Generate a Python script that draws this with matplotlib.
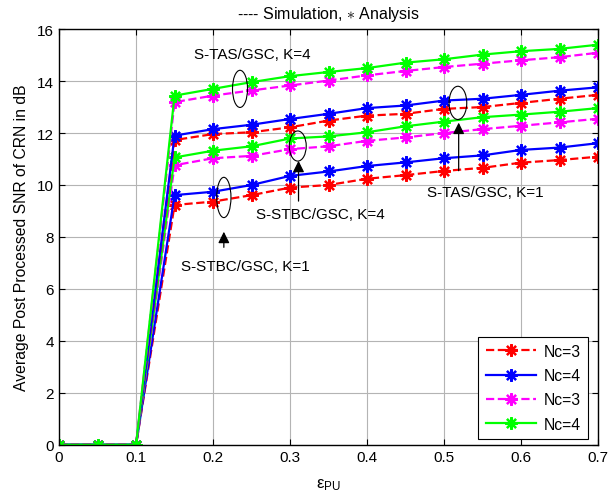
import matplotlib
matplotlib.use("Agg")
import matplotlib.pyplot as plt
from matplotlib.patches import Ellipse

plt.rcParams['font.family'] = ['Liberation Sans', 'DejaVu Sans']
plt.rcParams['mathtext.fontset'] = 'custom'
plt.rcParams['mathtext.rm'] = 'Liberation Sans'
plt.rcParams['mathtext.it'] = 'Liberation Sans'

# PU outage threshold
eps_pu = [0.0, 0.05, 0.1, 0.15, 0.2, 0.25, 0.3, 0.35, 0.4, 0.45, 0.5, 0.55, 0.6, 0.65, 0.7]

# Average post-processed SNR (dB)
stbc_k1_nc3 = [0, 0, 0, 9.23, 9.36, 9.61, 9.90, 10.00, 10.24, 10.38, 10.54, 10.66, 10.86, 10.96, 11.09]
stbc_k1_nc4 = [0, 0, 0, 9.61, 9.74, 10.00, 10.35, 10.52, 10.73, 10.87, 11.03, 11.14, 11.35, 11.44, 11.61]
stbc_k4_nc3 = [0, 0, 0, 10.76, 11.03, 11.12, 11.38, 11.49, 11.70, 11.83, 12.00, 12.15, 12.28, 12.41, 12.55]
stbc_k4_nc4 = [0, 0, 0, 11.06, 11.32, 11.49, 11.79, 11.87, 12.03, 12.26, 12.44, 12.61, 12.71, 12.82, 12.96]
tas_k1_nc3 = [0, 0, 0, 11.73, 11.96, 12.03, 12.22, 12.48, 12.67, 12.74, 12.93, 13.00, 13.16, 13.32, 13.47]
tas_k1_nc4 = [0, 0, 0, 11.90, 12.15, 12.32, 12.54, 12.74, 12.96, 13.06, 13.25, 13.32, 13.47, 13.63, 13.76]
tas_k4_nc3 = [0, 0, 0, 13.19, 13.44, 13.64, 13.83, 14.02, 14.22, 14.39, 14.54, 14.67, 14.80, 14.92, 15.09]
tas_k4_nc4 = [0, 0, 0, 13.44, 13.70, 13.96, 14.19, 14.35, 14.50, 14.71, 14.84, 15.02, 15.15, 15.24, 15.40]

legend_labels = ['Nc=3', 'Nc=4', 'Nc=3', 'Nc=4']

fig = plt.figure(figsize=(6.09, 5.02), dpi=100)
ax = fig.add_axes([0.097, 0.112, 0.885, 0.828])

red, blue, mag, green = '#ff0000', '#0000ff', '#ff00ff', '#00ff00'
star = (8, 2, 0)
common = dict(marker=star, markersize=9, markeredgewidth=1.6, linewidth=1.6)

h1, = ax.plot(eps_pu, stbc_k1_nc3, '--', color=red, **common)
h2, = ax.plot(eps_pu, stbc_k1_nc4, '-', color=blue, **common)
h3, = ax.plot(eps_pu, stbc_k4_nc3, '--', color=mag, **common)
h4, = ax.plot(eps_pu, stbc_k4_nc4, '-', color=green, **common)
ax.plot(eps_pu, tas_k1_nc3, '--', color=red, **common)
ax.plot(eps_pu, tas_k1_nc4, '-', color=blue, **common)
ax.plot(eps_pu, tas_k4_nc3, '--', color=mag, **common)
ax.plot(eps_pu, tas_k4_nc4, '-', color=green, **common)

ax.set_xlim(0, 0.7)
ax.set_ylim(0, 16)
ax.set_xticks([0, 0.1, 0.2, 0.3, 0.4, 0.5, 0.6, 0.7])
ax.set_xticklabels(['0', '0.1', '0.2', '0.3', '0.4', '0.5', '0.6', '0.7'])
ax.set_yticks(range(0, 17, 2))
ax.tick_params(direction='in', top=True, right=True, labelsize=11, length=4, width=0.8)
ax.grid(True, color='#b4b4b4', linewidth=0.8)
ax.set_axisbelow(True)
for s in ax.spines.values():
    s.set_linewidth(1.0)

ax.set_title('---- Simulation, $\\ast$ Analysis', fontsize=11.5, pad=8)
ax.set_ylabel('Average Post Processed SNR of CRN in dB', fontsize=11.3, labelpad=6)
ax.set_xlabel(r'$\epsilon_{\mathrm{PU}}$', fontsize=12, labelpad=9)

leg = ax.legend([h1, h2, h3, h4], legend_labels, loc='lower right',
                bbox_to_anchor=(0.981, 0.014), borderaxespad=0, fontsize=11.3,
                numpoints=1, handlelength=3.2, fancybox=False, edgecolor='black',
                framealpha=1, borderpad=0.45, labelspacing=0.6, handletextpad=0.5)
leg.get_frame().set_linewidth(0.8)

# Group markers
ellipses = [
    (0.235, 13.70, 0.0195, 1.43),
    (0.214, 9.52, 0.0185, 1.55),
    (0.310, 11.50, 0.022, 1.16),
    (0.518, 13.16, 0.023, 1.28),
]
for cx, cy, w, h in ellipses:
    ax.add_patch(Ellipse((cx, cy), w, h, fill=False, edgecolor='black', linewidth=0.8, zorder=5))

arrow = dict(arrowstyle='-|>', color='black', lw=0.9, mutation_scale=17,
             shrinkA=0, shrinkB=0)

ax.text(0.251, 15.05, 'S-TAS/GSC, K=4', fontsize=11, ha='center', va='center')

ax.annotate('', xy=(0.214, 8.20), xytext=(0.214, 7.60), arrowprops=arrow)
ax.text(0.242, 6.87, 'S-STBC/GSC, K=1', fontsize=11, ha='center', va='center')

ax.annotate('', xy=(0.311, 10.93), xytext=(0.311, 9.38), arrowprops=arrow)
ax.text(0.339, 8.87, 'S-STBC/GSC, K=4', fontsize=11, ha='center', va='center')

ax.annotate('', xy=(0.519, 12.4), xytext=(0.519, 10.55), arrowprops=arrow)
ax.text(0.553, 9.72, 'S-TAS/GSC, K=1', fontsize=11, ha='center', va='center')

fig.savefig('out.png', dpi=100)
